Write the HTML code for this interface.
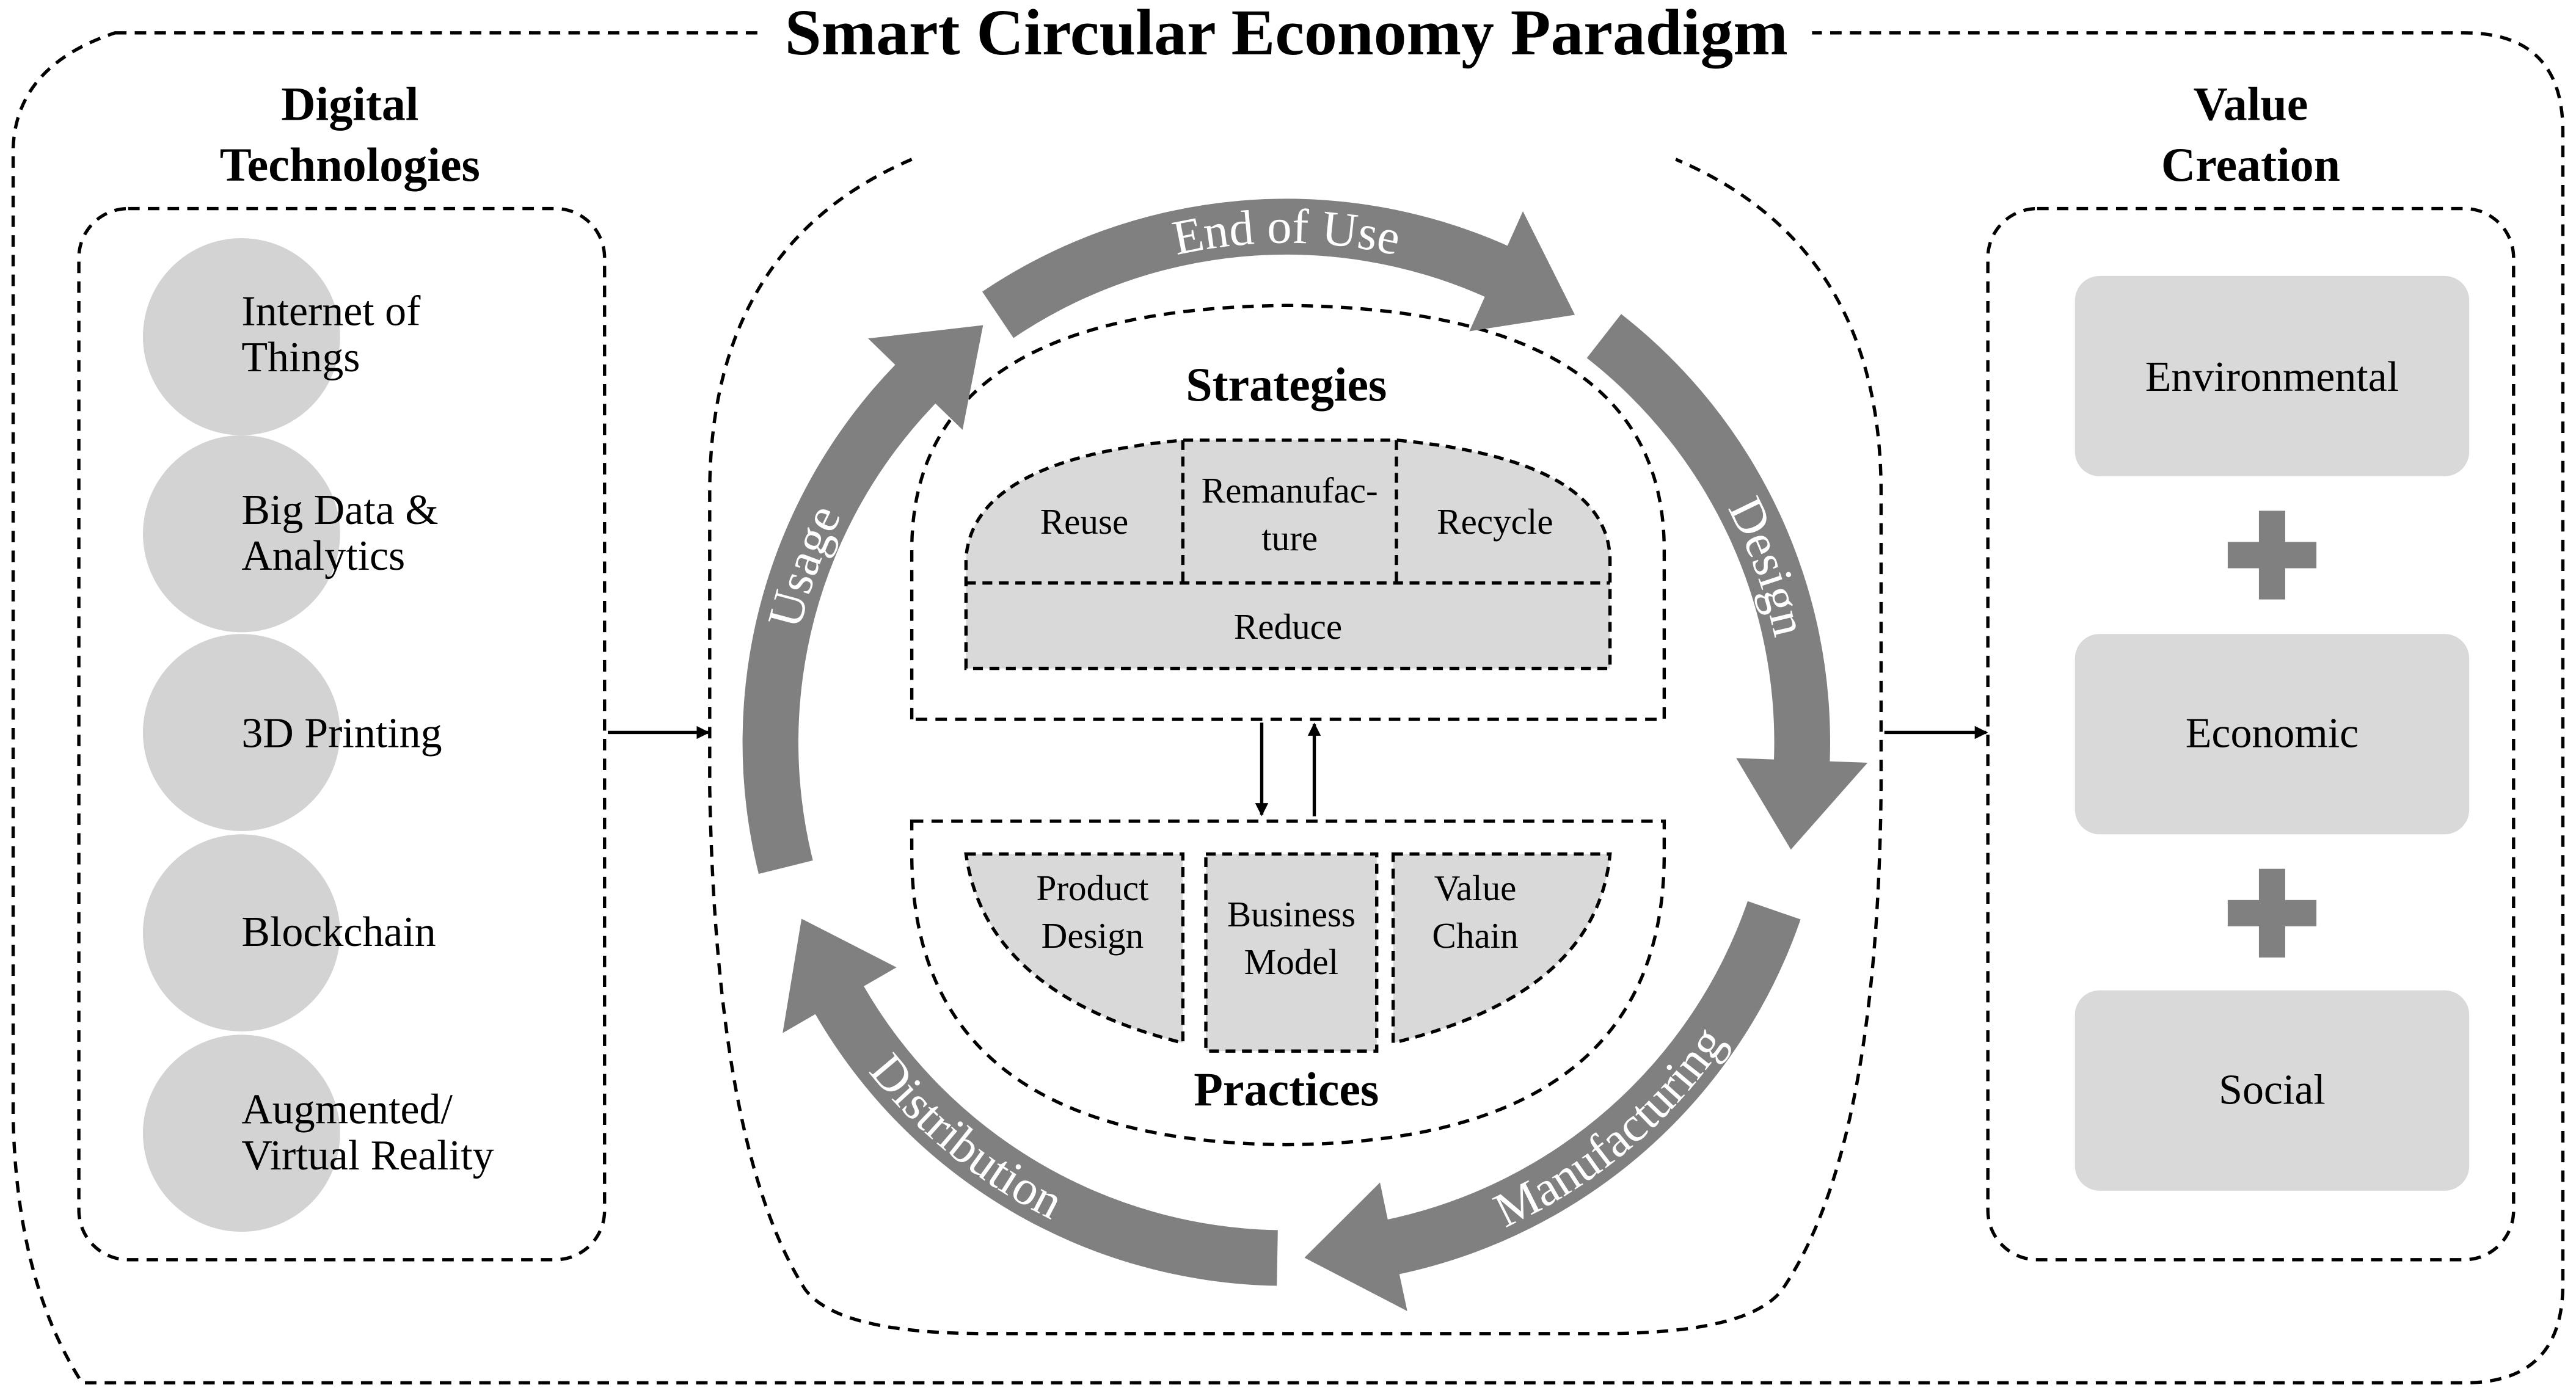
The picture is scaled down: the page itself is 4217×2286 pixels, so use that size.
<!DOCTYPE html>
<html><head><meta charset="utf-8"><style>
html,body{margin:0;padding:0;background:#fff;}
svg{display:block;}
text{font-family:"Liberation Serif",serif;}
</style></head><body>
<svg id="s" xmlns="http://www.w3.org/2000/svg" width="4217" height="2286" viewBox="0 0 1568 850" preserveAspectRatio="none">
<defs>
<marker id="ah" markerWidth="8" markerHeight="8" refX="7" refY="4" orient="auto" markerUnits="userSpaceOnUse"><path d="M0,0 L8,4 L0,8 Z" fill="#000"/></marker>
</defs>
<g fill="none" stroke="#000" stroke-width="2" stroke-dasharray="7,5">
<path d="M70,20 L1500,20 Q1560,20 1560,80 L1560,782 Q1560,842 1500,842 L50,842 Q10,780 8,680 L8,90 Q10,40 70,20 Z"/>
<rect x="48" y="127" width="320" height="640" rx="30"/>
<rect x="1210" y="127" width="320" height="640" rx="30"/>
<path d="M555,97 Q432,150 432,300 L432,480 Q436,700 490,785 Q510,812 600,812 L975,812 Q1065,812 1085,785 Q1143,700 1145,480 L1145,300 Q1145,150 1020,97"/>
<path d="M555,438 L555,335 Q555,188 783,186 Q1013,188 1013,335 L1013,438 Z"/>
<path d="M555,500 L1013,500 L1013,520 Q1013,695 783,697 Q555,695 555,520 Z"/>
</g>
<rect x="465" y="0" width="638" height="44" fill="#fff"/>
<text x="783" y="33" font-size="40" font-weight="bold" text-anchor="middle">Smart Circular Economy Paradigm</text>
<g font-size="29" font-weight="bold" text-anchor="middle">
<text x="213" y="73">Digital</text><text x="213" y="110">Technologies</text>
<text x="1370" y="73">Value</text><text x="1370" y="110">Creation</text>
<text x="783" y="244">Strategies</text>
<text x="783" y="673">Practices</text>
</g>
<g fill="#d3d3d3">
<circle cx="147" cy="205" r="60"/><circle cx="147" cy="325" r="60"/><circle cx="147" cy="446" r="60"/><circle cx="147" cy="568" r="60"/><circle cx="147" cy="690" r="60"/>
</g>
<g font-size="26">
<text x="147" y="198">Internet of</text><text x="147" y="226">Things</text>
<text x="147" y="319">Big Data &amp;</text><text x="147" y="347">Analytics</text>
<text x="147" y="455">3D Printing</text>
<text x="147" y="576">Blockchain</text>
<text x="147" y="684">Augmented/</text><text x="147" y="712">Virtual Reality</text>
</g>
<g fill="#d9d9d9">
<rect x="1263" y="168" width="240" height="122" rx="15"/>
<rect x="1263" y="386" width="240" height="122" rx="15"/>
<rect x="1263" y="603" width="240" height="122" rx="15"/>
</g>
<g font-size="26" text-anchor="middle">
<text x="1383" y="238">Environmental</text>
<text x="1383" y="455">Economic</text>
<text x="1383" y="672">Social</text>
</g>
<g fill="#808080">
<rect x="1356" y="330" width="54" height="16"/><rect x="1375" y="311" width="16" height="54"/>
<rect x="1356" y="548" width="54" height="16"/><rect x="1375" y="529" width="16" height="54"/>
</g>
<g stroke="#000" stroke-width="2" marker-end="url(#ah)">
<line x1="370" y1="446" x2="431" y2="446"/>
<line x1="1147" y1="446" x2="1209" y2="446"/>
<line x1="768" y1="440" x2="768" y2="496"/>
<line x1="800" y1="497" x2="800" y2="441"/>
</g>
<g fill="#d9d9d9" stroke="#000" stroke-width="2" stroke-dasharray="6,4">
<path d="M588,407 L588,340 Q592,280 720,268 L850,268 Q978,280 980,340 L980,407 Z"/>
<path d="M588,520 L720,520 L720,635 Q600,605 588,520 Z"/>
<rect x="734" y="520" width="104" height="120"/>
<path d="M848,520 L980,520 Q972,605 848,635 Z"/>
<path d="M720,268 L720,355 M850,268 L850,355 M588,355 L980,355" fill="none"/>
</g>
<g font-size="22" text-anchor="middle">
<text x="660" y="325">Reuse</text>
<text x="785" y="306">Remanufac-</text><text x="785" y="335">ture</text>
<text x="910" y="325">Recycle</text>
<text x="784" y="389">Reduce</text>
<text x="665" y="548">Product</text><text x="665" y="577">Design</text>
<text x="786" y="564">Business</text><text x="786" y="593">Model</text>
<text x="898" y="548">Value</text><text x="898" y="577">Chain</text>
</g>
<g id="ring"></g>
</svg>
<script>
(function(){
var cx=783,cy=452,R=314,w=17,h=40,ns="http://www.w3.org/2000/svg";
function P(r,a){a=a*Math.PI/180;return [(cx+r*Math.sin(a)).toFixed(1),(cy-r*Math.cos(a)).toFixed(1)];}
function seg(a0,a1,a2){
 var o0=P(R+w,a0),o1=P(R+w,a1),h1=P(R+h,a1),t=P(R,a2),h2=P(R-h,a1),i1=P(R-w,a1),i0=P(R-w,a0);
 var lg=((a1-a0+360)%360)>180?1:0;
 return "M"+o0+" A"+(R+w)+","+(R+w)+" 0 "+lg+" 1 "+o1+" L"+h1+" L"+t+" L"+h2+" L"+i1+" A"+(R-w)+","+(R-w)+" 0 "+lg+" 0 "+i0+" Z";
}
var g=document.getElementById("ring");
var segs=[[326,24,34],[38,92,102],[109,168,178],[181,240,250],[256,314,324]];
segs.forEach(function(s){var p=document.createElementNS(ns,"path");p.setAttribute("d",seg(s[0],s[1],s[2]));p.setAttribute("fill","#808080");g.appendChild(p);});
var labels=[["End of Use",0,1],["Design",70,1],["Manufacturing",140,0],["Distribution",219,0],["Usage",290,1]];
labels.forEach(function(l,i){
 var a=l[1],cw=l[2],r=cw?R-10:R+10,d;
 if(cw){var s=P(r,a-70),e=P(r,a+70);d="M"+s+" A"+r+","+r+" 0 0 1 "+e;}
 else{var s=P(r,a+70),e=P(r,a-70);d="M"+s+" A"+r+","+r+" 0 0 0 "+e;}
 var p=document.createElementNS(ns,"path");p.setAttribute("id","lp"+i);p.setAttribute("d",d);p.setAttribute("fill","none");g.appendChild(p);
 var t=document.createElementNS(ns,"text");t.setAttribute("font-size","30");t.setAttribute("fill","#fff");t.setAttribute("text-anchor","middle");
 var tp=document.createElementNS(ns,"textPath");tp.setAttribute("href","#lp"+i);tp.setAttributeNS("http://www.w3.org/1999/xlink","xlink:href","#lp"+i);tp.setAttribute("startOffset","50%");tp.textContent=l[0];
 t.appendChild(tp);g.appendChild(t);
});
})();
</script>
</body></html>
